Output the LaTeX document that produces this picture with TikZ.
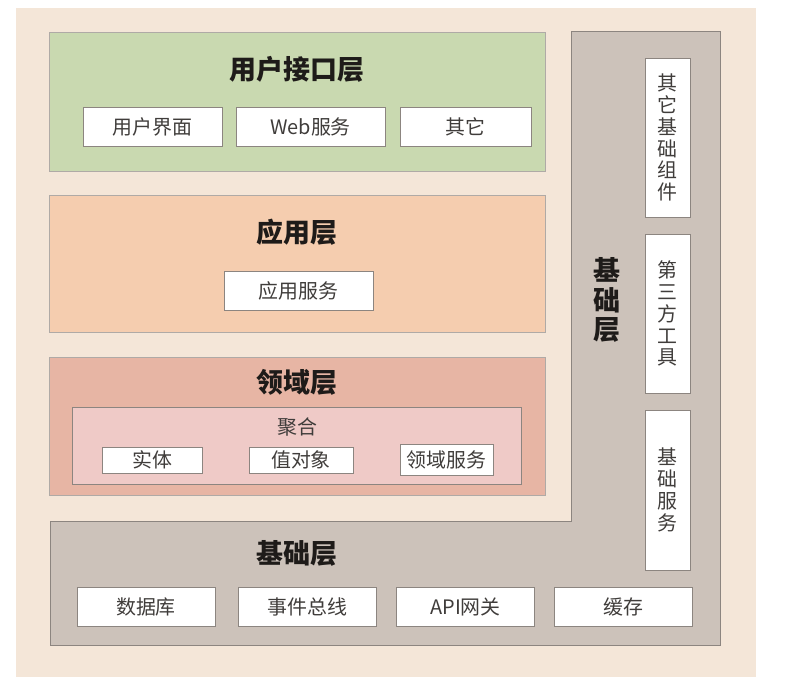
\documentclass[tikz,border=0pt]{standalone}
\usepackage{fontspec}
\setmainfont{Noto Sans CJK SC}
\usetikzlibrary{positioning}
\definecolor{creambg}{HTML}{F4E6D8}
\definecolor{uigreen}{HTML}{C9D9B0}
\definecolor{apporange}{HTML}{F5CDAF}
\definecolor{domred}{HTML}{E7B5A4}
\definecolor{aggpink}{HTML}{EFCAC7}
\definecolor{infgray}{HTML}{CCC2BA}
\definecolor{edgegray}{HTML}{8C8580}
\definecolor{txtdark}{HTML}{1E1B19}

\begin{document}
\begin{tikzpicture}[
  x=0.03cm, y=-0.03cm,
  layerbox/.style={draw=edgegray!70, line width=0.6pt, minimum width=14.88cm,
    inner sep=0pt},
  layertitle/.style={font=\fontsize{23}{26}\selectfont\bfseries, text=txtdark},
  itembox/.style={draw=edgegray, line width=0.8pt, fill=white, inner sep=0pt,
    minimum height=1.17cm, font=\fontsize{17}{19}\selectfont, text=txtdark!85},
  smallbox/.style={itembox, minimum height=0.78cm},
  vertbox/.style={itembox, minimum width=1.35cm, align=center,
    font=\fontsize{17}{18.7}\selectfont},
]

% Background
\fill[white] (0,0) rectangle (788,695);
\fill[creambg] (16,8) rectangle (756,677);

% === Infrastructure layer (L shape) ===
\filldraw[fill=infgray, draw=edgegray, line width=0.8pt]
  (571,31) -- (720,31) -- (720,645) -- (50,645) -- (50,521) -- (571,521) -- cycle;

% === User interface layer ===
\node[layerbox, fill=uigreen, minimum height=4.17cm] (uilayer) at (297,101.5) {};
\node[layertitle] (uititle) at (297,69) {用户接口层};
\node[itembox, minimum width=4.17cm] (uiview) at (152.5,126.5) {用户界面};
\node[itembox, minimum width=4.47cm] (websvc) at (310.5,126.5) {Web服务};
\node[itembox, minimum width=3.93cm] (uiother) at (465.5,126.5) {其它};

% === Application layer ===
\node[layerbox, fill=apporange, minimum height=4.11cm] (applayer) at (297,263.5) {};
\node[layertitle] (apptitle) at (297,232) {应用层};
\node[itembox, minimum width=4.47cm] (appsvc) at (298.5,290.5) {应用服务};

% === Domain layer ===
\node[layerbox, fill=domred, minimum height=4.14cm] (domlayer) at (297,426) {};
\node[layertitle] (domtitle) at (297,382) {领域层};
\node[draw=edgegray, line width=0.8pt, fill=aggpink, minimum width=13.47cm,
  minimum height=2.31cm, inner sep=0pt] (aggregate) at (296.5,445.5) {};
\node[font=\fontsize{17}{19}\selectfont, text=txtdark!85] (aggtitle) at (297,427) {聚合};
\node[smallbox, minimum width=3.0cm] (entity) at (152,460) {实体};
\node[smallbox, minimum width=3.12cm] (valobj) at (301,460) {值对象};
\node[smallbox, minimum width=2.79cm, minimum height=0.93cm] (domsvc) at (446.5,459.5) {领域服务};

% === Infrastructure items ===
\node[layertitle] (inftitle) at (297,553) {基础层};
\node[layertitle, align=center, font=\fontsize{23}{25.5}\selectfont\bfseries]
  (infvtitle) at (607,300) {基\\础\\层};
\node[itembox, minimum width=4.14cm] (database) at (146,606.5) {数据库};
\node[itembox, minimum width=4.14cm] (eventbus) at (307.5,606.5) {事件总线};
\node[itembox, minimum width=4.14cm] (apigw) at (465.5,606.5) {API网关};
\node[itembox, minimum width=4.14cm] (cache) at (623.5,606.5) {缓存};

\node[vertbox, minimum height=4.77cm] (othercomp) at (667.5,137.5) {其\\它\\基\\础\\组\\件};
\node[vertbox, minimum height=4.77cm] (thirdtool) at (667.5,313.5) {第\\三\\方\\工\\具};
\node[vertbox, minimum height=4.8cm] (basesvc) at (667.5,490) {基\\础\\服\\务};

\end{tikzpicture}
\end{document}
